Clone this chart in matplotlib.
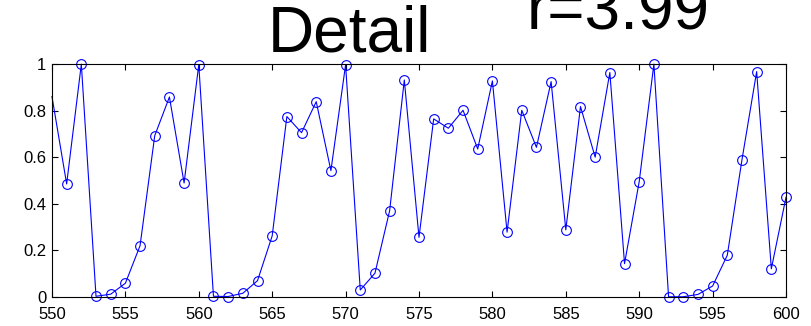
import matplotlib
matplotlib.use("Agg")
import matplotlib.pyplot as plt

# iteration index and population value
steps = list(range(550, 601))
values = [0.86, 0.485, 0.999, 0.003, 0.012, 0.059, 0.22, 0.692, 0.858, 0.489,
          0.997, 0.003, 0.002, 0.016, 0.07, 0.262, 0.774, 0.705, 0.838, 0.542,
          0.996, 0.03, 0.102, 0.37, 0.931, 0.256, 0.764, 0.724, 0.801, 0.635,
          0.927, 0.278, 0.801, 0.642, 0.924, 0.288, 0.817, 0.6, 0.963, 0.143,
          0.495, 0.999, 0.001, 0.001, 0.011, 0.047, 0.179, 0.589, 0.967, 0.121,
          0.428]

x_ticks = [550, 555, 560, 565, 570, 575, 580, 585, 590, 595, 600]
y_ticks = [0, 0.2, 0.4, 0.6, 0.8, 1]
y_labels = ["0", "0.2", "0.4", "0.6", "0.8", "1"]

plt.rcParams['font.family'] = ['Liberation Sans', 'DejaVu Sans']

fig = plt.figure(figsize=(8.12, 3.26), dpi=100)
ax = fig.add_axes([0.064, 0.089, 0.904, 0.715])

# first point sits on the left edge with no circle, like the original
ax.plot(steps, values, color=(0, 0, 1), linewidth=0.8,
        marker='o', markersize=7, markerfacecolor='none',
        markeredgecolor=(0, 0, 1), markeredgewidth=0.8,
        markevery=list(range(1, len(steps))), clip_on=False)

ax.set_xlim(550, 600)
ax.set_ylim(0, 1)
ax.set_xticks(x_ticks)
ax.set_xticklabels([str(t) for t in x_ticks])
ax.set_yticks(y_ticks)
ax.set_yticklabels(y_labels)
ax.tick_params(direction='in', length=4, width=0.8, labelsize=12,
               top=True, right=True)
ax.tick_params(axis='x', pad=7)
ax.tick_params(axis='y', pad=4)
for sp in ax.spines.values():
    sp.set_linewidth(0.8)

# titles sit above the axes like the cropped original
fig.text(268 / 812, 1 - 52 / 326, "Detail", fontsize=46, va='baseline', ha='left')
fig.text(527 / 812, 1 - 30 / 326, "r=3.99", fontsize=46, va='baseline', ha='left')

fig.savefig("out.png", dpi=100)
